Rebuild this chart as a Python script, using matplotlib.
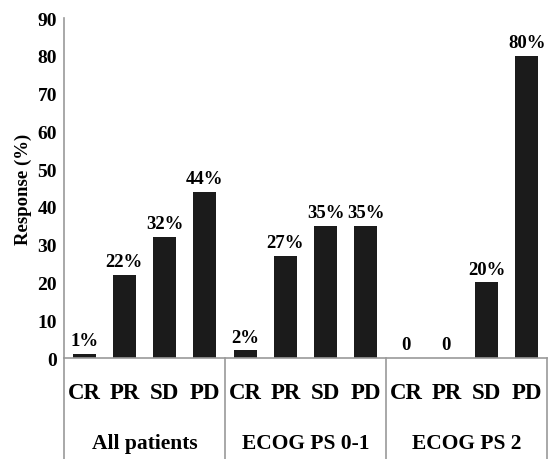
import numpy as np
import matplotlib
matplotlib.use("Agg")
import matplotlib.pyplot as plt
import matplotlib.transforms as mtransforms

plt.rcParams["font.family"] = ["Liberation Serif", "DejaVu Serif"]
plt.rcParams["font.weight"] = "bold"

GROUPS = ["All patients", "ECOG PS 0-1", "ECOG PS 2"]
CATEGORIES = ["CR", "PR", "SD", "PD"]
VALUES = [1, 22, 32, 44, 2, 27, 35, 35, 0, 0, 20, 80]
LABELS = ["1%", "22%", "32%", "44%", "2%", "27%", "35%", "35%",
          "0", "0", "20%", "80%"]

AXIS_GRAY = "#9a9a9a"

fig = plt.figure(figsize=(5.5, 4.6), dpi=100)
ax = fig.add_axes([64 / 550, 1 - 359 / 460, 483 / 550, 340 / 460])

x = np.arange(len(VALUES))
ax.bar(x, VALUES, width=0.57, color="#1b1b1b", edgecolor="none")
for xi, v, lab in zip(x, VALUES, LABELS):
    ax.text(xi, v + 1.3, lab, ha="center", va="bottom", fontsize=13.5,
            fontweight="bold")

ax.set_xlim(-0.5, len(VALUES) - 0.5)
ax.set_ylim(0, 90)
ax.set_yticks(range(0, 91, 10))
ax.tick_params(axis="y", length=0, labelsize=14, pad=5)
ax.set_xticks([])
ax.set_ylabel("Response (%)", fontsize=13.5, fontweight="bold", labelpad=4)

for s in ["top", "right"]:
    ax.spines[s].set_visible(False)
for s in ["left", "bottom"]:
    ax.spines[s].set_color(AXIS_GRAY)
    ax.spines[s].set_linewidth(1.2)

trans = mtransforms.blended_transform_factory(ax.transData, ax.transAxes)
low = -101 / 340
for xi in x:
    ax.text(xi, -35 / 340, CATEGORIES[xi % 4], transform=trans, ha="center",
            va="center", fontsize=16.5, fontweight="bold")
for gi, g in enumerate(GROUPS):
    ax.text(gi * 4 + 1.5, -85 / 340, g, transform=trans, ha="center",
            va="center", fontsize=15.5, fontweight="bold")
for sep in [-0.5, 3.5, 7.5, 11.5]:
    ax.plot([sep, sep], [0, low], transform=trans, color=AXIS_GRAY, lw=1.2,
            clip_on=False)

fig.savefig("out.png", dpi=100)
